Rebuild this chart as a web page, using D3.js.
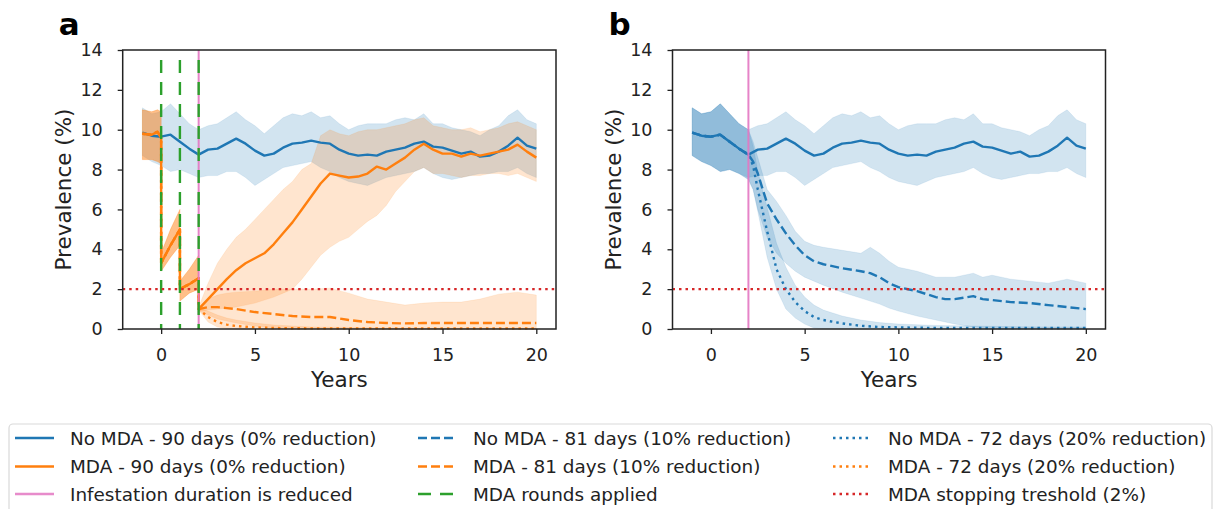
<!DOCTYPE html>
<html><head><meta charset="utf-8">
<script src="https://cdn.jsdelivr.net/npm/d3@7"></script>
<style>body{margin:0;background:#fff} svg{display:block;font-family:"DejaVu Sans",sans-serif}</style>
</head><body><svg id="c" width="1215" height="509"></svg>
<script>
// ---------- DATA ----------
const xTicks = [0, 5, 10, 15, 20];
const yTicks = [0, 2, 4, 6, 8, 10, 12, 14];
const panelLabels = ["a", "b"];
const xLabel = "Years";
const yLabel = "Prevalence (%)";
const threshold = 2;
const mdaRounds = [0, 1, 2];
const interventionYear = 2;

// No MDA - 90 days (also the pre-intervention part of 81 / 72 days)
const years = [-1,-0.5,0,0.5,1,1.5,2,2.5,3,3.5,4,4.5,5,5.5,6,6.5,7,7.5,8,8.5,9,9.5,10,10.5,11,11.5,12,12.5,13,13.5,14,14.5,15,15.5,16,16.5,17,17.5,18,18.5,19,19.5,20];
const noMda90Mean = [9.85,9.7,9.65,9.75,9.4,9.05,8.75,9.0,9.05,9.3,9.55,9.3,8.95,8.7,8.8,9.1,9.3,9.35,9.45,9.35,9.3,9.0,8.8,8.7,8.75,8.7,8.9,9.0,9.1,9.3,9.4,9.15,9.1,8.95,8.8,8.9,8.65,8.7,8.9,9.2,9.6,9.2,9.05];
const noMda90Hi = [11.1,10.8,10.9,11.3,10.8,10.3,10.0,10.2,10.3,10.6,10.9,10.5,10.2,9.8,10.2,10.6,10.8,10.7,10.9,10.6,10.7,10.3,10.0,10.2,10.3,10.3,10.3,10.5,10.6,10.5,10.8,10.3,10.3,10.1,10.0,9.9,9.7,10.0,10.2,10.7,11.0,10.5,10.3];
const noMda90Lo = [8.7,8.4,8.2,7.9,8.0,7.8,7.6,7.7,7.7,7.9,7.9,7.6,7.2,7.5,7.8,8.1,8.2,8.3,8.4,8.1,7.9,7.6,7.4,7.3,7.2,7.4,7.6,7.7,7.8,7.9,8.1,7.8,7.6,7.5,7.6,7.7,7.8,7.8,7.9,7.9,8.1,7.8,7.6];

// No MDA - 81 days, after the intervention
const noMda81Years = [2,2.25,2.5,3,3.5,4,4.5,5,5.5,6,7,8,8.5,9,9.5,10,11,12,12.5,13,14,14.5,15,16,17,18,19,20];
const noMda81Mean = [8.75,8.4,7.8,6.3,5.5,4.8,4.2,3.7,3.4,3.25,3.05,2.9,2.8,2.6,2.3,2.1,1.9,1.6,1.5,1.5,1.65,1.5,1.45,1.35,1.3,1.2,1.1,1.0];
const noMda81Hi = [10.0,9.4,8.6,7.0,6.4,5.7,4.9,4.4,4.2,4.1,3.95,3.8,4.1,3.8,3.4,3.1,2.9,2.6,2.6,2.6,2.8,2.6,2.7,2.5,2.4,2.3,2.5,2.3];
const noMda81Lo = [7.5,7.0,6.0,4.6,3.8,3.3,2.9,2.6,2.4,2.2,1.85,1.55,1.4,1.25,1.05,0.9,0.65,0.45,0.35,0.25,0.1,0.05,0,0,0,0,0,0];

// No MDA - 72 days, after the intervention
const noMda72Years = [2,2.25,2.5,3,3.5,4,4.5,5,5.5,6,7,8,9,10,12,14,16,18,20];
const noMda72Mean = [8.75,8.2,7.0,4.9,3.0,2.0,1.35,0.9,0.6,0.45,0.28,0.16,0.1,0.08,0.05,0.05,0.05,0.05,0.05];
const noMda72Hi = [10.0,9.2,7.9,6.1,4.3,3.1,2.2,1.6,1.2,0.95,0.65,0.45,0.32,0.25,0.18,0.15,0.12,0.1,0.1];
const noMda72Lo = [7.5,7.0,5.9,3.6,2.0,1.0,0.55,0.25,0.05,0,0,0,0,0,0,0,0,0,0];

// MDA, common part before year 2 (three rounds at 0, 1, 2)
const mdaPreYears = [-1,-0.5,-0.2,0,0,0.5,1,1,1.5,2];
const mdaPreMean = [9.8,9.75,9.9,9.6,3.3,4.2,5.0,2.0,2.25,2.55];
const mdaPreHi = [11.0,10.9,11.0,10.9,3.8,5.0,6.0,2.4,3.0,3.7];
const mdaPreLo = [8.5,8.5,8.4,8.3,2.9,3.6,4.2,1.4,1.8,2.0];

// MDA - 90 days, after year 2
const mda90Years = [2,2.5,3,3.5,4,4.5,5,5.5,6,6.5,7,7.5,8,8.5,9,9.5,10,10.5,11,11.5,12,12.5,13,13.5,14,14.5,15,15.5,16,16.5,17,17.5,18,18.5,19,19.5,20];
const mda90Mean = [1.0,1.5,2.0,2.5,2.95,3.3,3.55,3.8,4.25,4.8,5.35,6.0,6.65,7.3,7.8,7.7,7.6,7.65,7.8,8.15,8.0,8.3,8.6,9.0,9.3,9.0,8.8,8.8,8.65,8.8,8.7,8.8,8.9,9.0,9.25,8.9,8.6];
const mda90Hi = [1.1,2.3,3.3,4.0,4.6,5.0,5.5,6.0,6.5,7.0,7.4,8.0,8.3,9.7,10.0,9.8,9.7,9.9,10.0,10.0,10.1,10.2,10.3,10.5,10.6,10.2,10.1,10.0,10.0,10.1,9.9,10.0,10.1,10.3,10.4,10.2,10.0];
const mda90Lo = [0.9,0.95,1.0,1.05,1.1,1.2,1.3,1.45,1.6,1.8,2.0,2.5,3.1,3.7,4.1,4.4,4.6,5.0,5.4,5.7,6.2,6.9,7.4,7.9,8.1,7.8,7.8,7.7,7.6,7.7,7.7,7.8,7.8,7.7,7.8,7.6,7.4];

// MDA - 81 days, after year 2
const mda81Years = [2,2.5,3,3.5,4,5,6,7,8,9,10,11,12,13,14,15,16,17,18,19,20];
const mda81Mean = [1.0,1.1,1.1,1.05,1.0,0.85,0.75,0.65,0.6,0.6,0.45,0.35,0.3,0.28,0.3,0.3,0.3,0.3,0.3,0.3,0.3];
const mda81Hi = [1.1,1.5,1.7,1.8,1.85,1.9,2.0,2.0,2.0,2.05,1.8,1.5,1.35,1.2,1.3,1.35,1.35,1.5,1.75,1.85,1.7];
const mda81Lo = [0.9,0.7,0.5,0.4,0.3,0.15,0.05,0,0,0,0,0,0,0,0,0,0,0,0,0,0];

// MDA - 72 days, after year 2
const mda72Years = [2,2.5,3,3.5,4,5,6,7,8,10,12,14,16,18,20];
const mda72Mean = [1.0,0.6,0.35,0.22,0.15,0.08,0.05,0.04,0.03,0.03,0.03,0.03,0.03,0.03,0.03];
const mda72Hi = [1.05,0.9,0.7,0.55,0.45,0.3,0.2,0.15,0.1,0.08,0.05,0.05,0.05,0.05,0.05];
const mda72Lo = [0.95,0.35,0.1,0.03,0,0,0,0,0,0,0,0,0,0,0];

const legendCols = [
  ["No MDA - 90 days (0% reduction)", "MDA - 90 days (0% reduction)", "Infestation duration is reduced"],
  ["No MDA - 81 days (10% reduction)", "MDA - 81 days (10% reduction)", "MDA rounds applied"],
  ["No MDA - 72 days (20% reduction)", "MDA - 72 days (20% reduction)", "MDA stopping treshold (2%)"]
];

// ---------- STYLE ----------
const C = {blue:"#1f77b4", orange:"#ff7f0e", green:"#2ca02c", red:"#d62728", pink:"#e377c2"};
const DASH = {solid:null, dashed:"9,4", dotted:"2.5,4", green:"13,9"};
const legendStyles = [
  [[C.blue,"solid"],[C.orange,"solid"],[C.pink,"solid"]],
  [[C.blue,"dashed"],[C.orange,"dashed"],[C.green,"green"]],
  [[C.blue,"dotted"],[C.orange,"dotted"],[C.red,"dotted"]]
];

// ---------- BUILD ----------
function series(xs, mean, lo, hi){ return xs.map((x,i)=>({x, m:mean[i], lo:lo[i], hi:hi[i]})); }
const base90 = series(years, noMda90Mean, noMda90Lo, noMda90Hi);
const basePre = base90.slice(0,6);
const nm81 = basePre.concat(series(noMda81Years, noMda81Mean, noMda81Lo, noMda81Hi));
const nm72 = basePre.concat(series(noMda72Years, noMda72Mean, noMda72Lo, noMda72Hi));
const mPre = series(mdaPreYears, mdaPreMean, mdaPreLo, mdaPreHi);
const m90 = mPre.concat(series(mda90Years, mda90Mean, mda90Lo, mda90Hi));
const m81 = mPre.concat(series(mda81Years, mda81Mean, mda81Lo, mda81Hi));
const m72 = mPre.concat(series(mda72Years, mda72Mean, mda72Lo, mda72Hi));

const svg = d3.select("#c");
const panels = [
  {label:panelLabels[0], left:122.7, right:556, top:50, bottom:329,
   bands:[[base90,C.blue],[m90,C.orange],[m81,C.orange],[m72,C.orange]],
   lines:[[base90,C.blue,"solid"],[m90,C.orange,"solid"],[m81,C.orange,"dashed"],[m72,C.orange,"dotted"]],
   green:true},
  {label:panelLabels[1], left:672.5, right:1105.5, top:50, bottom:329,
   bands:[[base90,C.blue],[nm81,C.blue],[nm72,C.blue]],
   lines:[[base90,C.blue,"solid"],[nm81,C.blue,"dashed"],[nm72,C.blue,"dotted"]],
   green:false}
];

panels.forEach(p=>{
  const x = d3.scaleLinear().domain([-2.05, 21.05]).range([p.left, p.right]);
  const y = d3.scaleLinear().domain([0, 14]).range([p.bottom, p.top]);
  const g = svg.append("g");
  const area = d3.area().x(d=>x(d.x)).y0(d=>y(d.lo)).y1(d=>y(d.hi));
  const line = d3.line().x(d=>x(d.x)).y(d=>y(d.m));
  p.bands.forEach(([s,c])=>g.append("path").attr("d",area(s)).attr("fill",c).attr("fill-opacity",0.2).attr("stroke",c).attr("stroke-opacity",0.12).attr("stroke-width",0.8));
  p.lines.forEach(([s,c,st])=>g.append("path").attr("d",line(s)).attr("fill","none").attr("stroke",c).attr("stroke-width",2.4).attr("stroke-dasharray",DASH[st]).attr("stroke-linejoin","round"));
  g.append("line").attr("x1",x(interventionYear)).attr("x2",x(interventionYear)).attr("y1",y(14)).attr("y2",y(0))
    .attr("stroke",C.pink).attr("stroke-width",2).attr("stroke-opacity",0.9);
  if(p.green){
    mdaRounds.forEach(r=>g.append("line").attr("x1",x(r)).attr("x2",x(r)).attr("y1",y(13.5)).attr("y2",y(0))
      .attr("stroke",C.green).attr("stroke-width",2.4).attr("stroke-dasharray",DASH.green));
  }
  g.append("line").attr("x1",p.left).attr("x2",p.right).attr("y1",y(threshold)).attr("y2",y(threshold))
    .attr("stroke",C.red).attr("stroke-width",2.2).attr("stroke-dasharray",DASH.dotted);
  g.append("rect").attr("x",p.left).attr("y",p.top).attr("width",p.right-p.left).attr("height",p.bottom-p.top)
    .attr("fill","none").attr("stroke","#222").attr("stroke-width",1.5);
  const ax = g.append("g").attr("transform",`translate(0,${p.bottom})`)
    .call(d3.axisBottom(x).tickValues(xTicks).tickSize(5).tickPadding(15).tickSizeOuter(0));
  const ay = g.append("g").attr("transform",`translate(${p.left},0)`)
    .call(d3.axisLeft(y).tickValues(yTicks).tickSize(5).tickPadding(15).tickSizeOuter(0));
  [ax,ay].forEach(a=>{
    a.select(".domain").remove();
    a.selectAll("line").attr("stroke","#222").attr("stroke-width",1.3);
    a.selectAll("text").attr("font-size",17.5).attr("fill","#222").attr("font-family","DejaVu Sans");
  });
  g.append("text").attr("x",(p.left+p.right)/2).attr("y",387).attr("text-anchor","middle")
    .attr("font-size",21.5).attr("fill","#222").text(xLabel);
  g.append("text").attr("transform",`translate(${p.left-52},${(p.top+p.bottom)/2}) rotate(-90)`)
    .attr("text-anchor","middle").attr("font-size",21.5).attr("fill","#222").text(yLabel);
  g.append("text").attr("x",p.left-64).attr("y",35).attr("font-size",31).attr("font-weight","bold")
    .attr("fill","#000").text(p.label);
});

// ---------- LEGEND ----------
const lg = svg.append("g");
lg.append("rect").attr("x",9).attr("y",424).attr("width",1203).attr("height",110).attr("rx",4)
  .attr("fill","#fff").attr("stroke","#d9d9d9").attr("stroke-width",1.2);
const colX = [15, 418, 833];
const rowY = [438, 466.5, 494];
legendCols.forEach((col,ci)=>col.forEach((txt,ri)=>{
  const [c,st] = legendStyles[ci][ri];
  lg.append("line").attr("x1",colX[ci]).attr("x2",colX[ci]+39).attr("y1",rowY[ri]).attr("y2",rowY[ri])
    .attr("stroke",c).attr("stroke-width",2.4).attr("stroke-dasharray",DASH[st])
    .attr("stroke-opacity", c===C.pink?0.85:1);
  lg.append("text").attr("x",colX[ci]+55).attr("y",rowY[ri]).attr("dy","0.36em")
    .attr("font-size",18.4).attr("fill","#222").text(txt);
}));
</script></body></html>
